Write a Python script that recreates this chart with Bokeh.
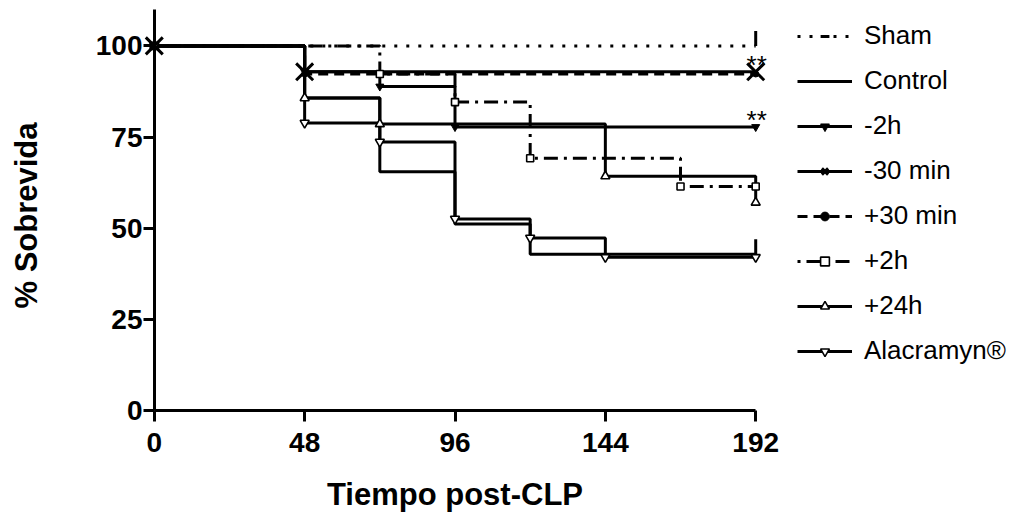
import math
from bokeh.plotting import figure
from bokeh.models import Range1d, Legend, LegendItem, FixedTicker, LinearAxis
from bokeh.embed import file_html
from bokeh.resources import INLINE
from bokeh.core.properties import value

# ---------------- data ----------------
sham_t = [0, 192]
sham_s = [100, 100]
sham_cens_t = [192]
sham_cens_s = [100]

control_t = [0, 48, 72, 96, 120, 192]
control_s = [100, 85.7, 65.5, 51.2, 42.9, 42.9]
control_cens_t = [192]
control_cens_s = [42.9]

m2h_t = [0, 48, 72, 96, 192]
m2h_s = [100, 92.9, 88.9, 77.8, 77.8]

m30_t = [0, 48, 192]
m30_s = [100, 92.9, 92.9]

p30_t = [0, 48, 192]
p30_s = [100, 92.3, 92.3]

p2h_t = [0, 72, 96, 120, 168, 192]
p2h_s = [100, 92.3, 84.6, 69.2, 61.5, 61.5]

p24h_t = [0, 48, 72, 144, 192]
p24h_s = [100, 85.7, 78.6, 64.3, 57.1]

alac_t = [0, 48, 72, 96, 120, 144, 192]
alac_s = [100, 78.9, 73.7, 52.6, 47.4, 42.1, 42.1]

signif_labels = ["**", "**"]
signif_t = [192, 192]
signif_s = [92.9, 77.8]

x_ticks = [0, 48, 96, 144, 192]
y_ticks = [0, 25, 50, 75, 100]

series_names = ["Sham", "Control", "-2h", "-30 min", "+30 min", "+2h", "+24h", "Alacramyn\u00ae"]

# ---------------- figure ----------------
FONT = "Liberation Sans"
p = figure(width=1020, height=514, frame_width=639, frame_height=420,
           x_range=Range1d(-6, 198), y_range=Range1d(-4, 111.07),
           output_backend="svg", toolbar_location=None,
           min_border_left=135, min_border_right=246,
           min_border_top=5, min_border_bottom=89)
p.outline_line_color = None
p.xgrid.visible = False
p.ygrid.visible = False
p.background_fill_color = "white"
p.border_fill_color = "white"

# Axes that carry the tick labels and titles (at the frame edges)
for ax in (p.xaxis[0], p.yaxis[0]):
    ax.axis_line_color = None
    ax.major_tick_line_color = None
    ax.minor_tick_line_color = None
    ax.major_tick_out = 0
    ax.major_tick_in = 0
    ax.major_label_text_font = FONT
    ax.major_label_text_font_style = "bold"
    ax.major_label_text_font_size = "28px"
    ax.major_label_text_color = "black"
    ax.axis_label_text_font = FONT
    ax.axis_label_text_font_style = "bold"
    ax.axis_label_text_font_size = "31px"
    ax.axis_label_text_color = "black"

p.xaxis.ticker = FixedTicker(ticks=x_ticks)
p.yaxis.ticker = FixedTicker(ticks=y_ticks)
p.xaxis.axis_label = "Tiempo post-CLP"
p.yaxis.axis_label = "% Sobrevida"
p.xaxis.major_label_standoff = 7
p.yaxis.major_label_standoff = -7
p.xaxis.axis_label_standoff = 22
p.yaxis.axis_label_standoff = 49

# Axes that draw the rules and ticks at the data origin
def rule_axis(ticks, bounds):
    ax = LinearAxis(ticker=FixedTicker(ticks=ticks), fixed_location=0, bounds=bounds)
    ax.axis_line_width = 3
    ax.axis_line_color = "black"
    ax.major_tick_line_width = 3
    ax.major_tick_line_color = "black"
    ax.major_tick_out = 11
    ax.major_tick_in = 0
    ax.minor_tick_line_color = None
    ax.major_label_overrides = {t: "" for t in ticks}
    ax.major_label_text_alpha = 0
    return ax

p.add_layout(rule_axis(x_ticks, (0, 192)), "below")
p.add_layout(rule_axis(y_ticks, (0, 110)), "left")

LW = 3
CENSOR_LEN = 4.1  # censor tick height in data units
CENSOR_PX = 15

def km(t, s, dash):
    return p.step(t, s, mode="after", line_color="black", line_width=LW, line_dash=dash)

def censor(t, s):
    return p.scatter(t, [v + CENSOR_LEN / 2 for v in s], marker="dash", angle=math.pi / 2,
                     size=CENSOR_PX, line_color="black", line_width=LW)

sham_line = km(sham_t, sham_s, "3 9")
sham_cens = censor(sham_cens_t, sham_cens_s)
control_line = km(control_t, control_s, "solid")
control_cens = censor(control_cens_t, control_cens_s)

p2h_line = km(p2h_t, p2h_s, "3 6 14 6")
p30_line = km(p30_t, p30_s, "10 6")
m2h_line = km(m2h_t, m2h_s, "solid")
p24h_line = km(p24h_t, p24h_s, "solid")
alac_line = km(alac_t, alac_s, "solid")
m30_line = km(m30_t, m30_s, "solid")

m2h_pts = p.scatter(m2h_t, m2h_s, marker="inverted_triangle", size=8,
                    fill_color="black", line_color="black", line_width=1)
p30_pts = p.scatter(p30_t, p30_s, marker="circle", size=6,
                    fill_color="black", line_color="black")
p2h_pts = p.scatter(p2h_t, p2h_s, marker="square", size=7,
                    fill_color="white", line_color="black", line_width=1.6)
p24h_pts = p.scatter(p24h_t, p24h_s, marker="triangle", size=9,
                     fill_color="white", line_color="black", line_width=1.6)
alac_pts = p.scatter(alac_t, alac_s, marker="inverted_triangle", size=9,
                     fill_color="white", line_color="black", line_width=1.6)
m30_pts = p.scatter(m30_t, m30_s, marker="x", size=24,
                    line_color="black", line_width=3)

p.text(x=signif_t, y=signif_s, text=signif_labels, text_font=value(FONT),
       text_font_size="26px", text_align="center", text_baseline="alphabetic",
       x_offset=1, y_offset=-7, text_color="black")

items = [
    LegendItem(label=series_names[0], renderers=[sham_line, sham_cens]),
    LegendItem(label=series_names[1], renderers=[control_line, control_cens]),
    LegendItem(label=series_names[2], renderers=[m2h_line, m2h_pts]),
    LegendItem(label=series_names[3], renderers=[m30_line, m30_pts]),
    LegendItem(label=series_names[4], renderers=[p30_line, p30_pts]),
    LegendItem(label=series_names[5], renderers=[p2h_line, p2h_pts]),
    LegendItem(label=series_names[6], renderers=[p24h_line, p24h_pts]),
    LegendItem(label=series_names[7], renderers=[alac_line, alac_pts]),
]
legend = Legend(items=items, location=(23, 59), orientation="vertical",
                glyph_width=55, glyph_height=22, label_height=30, spacing=14,
                label_standoff=12, padding=0, margin=0,
                border_line_color=None, background_fill_alpha=0,
                label_text_font=FONT, label_text_font_size="26px",
                label_text_color="black")
p.add_layout(legend, "right")

open("out.html", "w").write(file_html(p, INLINE))
